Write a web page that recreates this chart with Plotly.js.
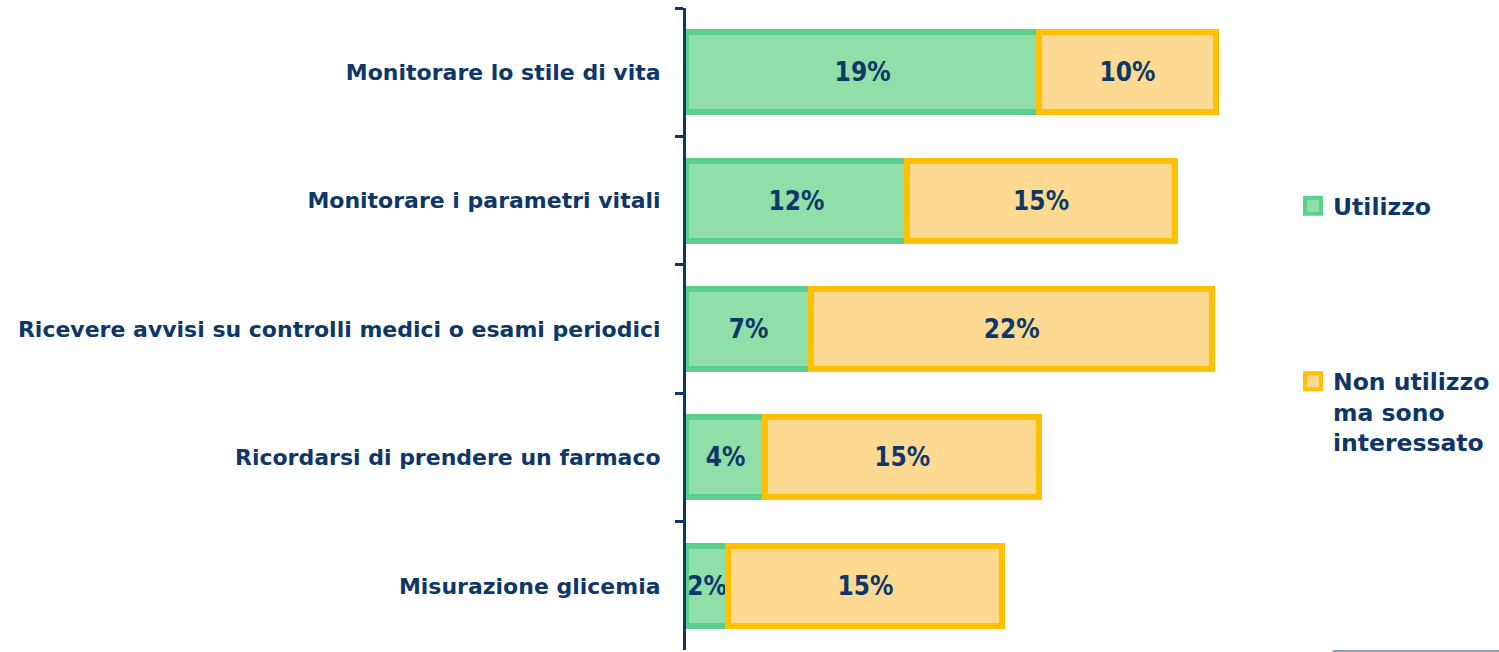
<!DOCTYPE html>
<html>
<head>
<meta charset="utf-8">
<script src="https://cdn.plot.ly/plotly-3.0.1.min.js"></script>
<style>html,body{margin:0;padding:0;background:#fff;}#chart{width:1499px;height:652px;}</style>
</head>
<body>
<div id="chart"></div>
<script>
const categories = [
  "Monitorare lo stile di vita",
  "Monitorare i parametri vitali",
  "Ricevere avvisi su controlli medici o esami periodici",
  "Ricordarsi di prendere un farmaco",
  "Misurazione glicemia"
];
const utilizzo = [19.2, 12.0, 6.8, 4.3, 2.3];
const interessato = [9.6, 14.6, 21.8, 14.9, 14.9];
const seriesNames = ["Utilizzo", "Non utilizzo<br>ma sono<br>interessato"];
const fillColors = ["#90dea8", "#fdd991"];
const lineColors = ["#5bd08e", "#ffc000"];

const navy = "#0e3768";
const fontFam = "DejaVu Sans, Verdana, sans-serif";
const barFont = {family: "DejaVu Sans Condensed, DejaVu Sans, sans-serif", size: 26, color: navy, weight: "bold"};

const seriesValues = [utilizzo, interessato];
const traces = [];
seriesValues.forEach(function (vals, i) {
  traces.push({
    type: "bar", orientation: "h", name: seriesNames[i], showlegend: false,
    y: categories, x: vals,
    marker: {color: fillColors[i], line: {color: lineColors[i], width: 6}},
    texttemplate: "%{x:.0f}%", textposition: "inside", insidetextanchor: "middle",
    textangle: 0, constraintext: "none", insidetextfont: barFont,
    hoverinfo: "skip"
  });
});
// legend entries (one per series)
seriesValues.forEach(function (vals, i) {
  traces.push({
    type: "scatter", mode: "markers", name: seriesNames[i], legendgroup: "g" + i,
    x: [null], y: [null],
    marker: {symbol: "square", size: 16, color: fillColors[i], line: {color: lineColors[i], width: 4}},
    hoverinfo: "skip"
  });
});

const layout = {
  width: 1499, height: 652,
  margin: {l: 686, r: 209, t: 8, b: 2, pad: 0, autoexpand: false},
  paper_bgcolor: "#ffffff", plot_bgcolor: "#ffffff",
  barmode: "stack", bargap: 0.377,
  showlegend: true,
  legend: {
    x: 1.005, xanchor: "left", y: 0.726, yanchor: "top",
    traceorder: "grouped", tracegroupgap: 142, valign: "top",
    itemsizing: "trace",
    font: {family: fontFam, size: 23.5, color: navy, weight: "bold"},
    itemwidth: 30, bgcolor: "rgba(0,0,0,0)"
  },
  xaxis: {
    range: [0, 32.83], visible: false, fixedrange: true
  },
  yaxis: {
    autorange: "reversed", type: "category",
    showline: true, linecolor: navy, linewidth: 3,
    ticks: "outside", tickson: "boundaries", ticklen: 8, tickwidth: 3, tickcolor: navy,
    tickfont: {family: fontFam, size: 22, color: navy, weight: "bold"},
    ticklabelstandoff: 18,
    showgrid: false, zeroline: false, fixedrange: true
  },
  shapes: [{
    type: "line", xref: "paper", yref: "paper",
    x0: 1.071, x1: 1.346, y0: -0.0016, y1: -0.0016,
    line: {color: "#8a9bb0", width: 2}
  }]
};

Plotly.newPlot("chart", traces, layout, {staticPlot: true, displayModeBar: false});
</script>
</body>
</html>
